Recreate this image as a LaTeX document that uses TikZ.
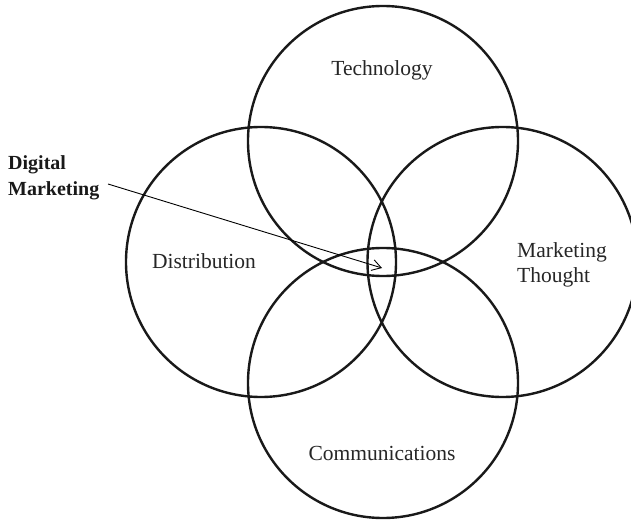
\documentclass[tikz,border=0pt]{standalone}
\usepackage{fontspec}
\setmainfont{Liberation Serif}
\usetikzlibrary{arrows.meta}
\begin{document}
\begin{tikzpicture}[x=1pt,y=-1pt,
  ring/.style={draw=black!90, line width=2.4pt, circle, minimum size=270pt, inner sep=0pt},
  lbl/.style={font=\fontsize{21.5}{25.5}\selectfont, text=black!85, inner sep=0pt},
  blbl/.style={font=\fontsize{20}{26}\selectfont\bfseries, text=black!90, inner sep=0pt, align=left},
  pointer/.style={line width=0.9pt, -{Straight Barb[length=9pt,width=11pt]}}]
\useasboundingbox (0,0) rectangle (631,521);
\node[ring] (tech) at (383,141) {};
\node[ring] (dist) at (261,262) {};
\node[ring] (mkt)  at (502.5,262) {};
\node[ring] (comm) at (383,383) {};
\node[lbl, anchor=base] (techl) at (382,76) {Technology};
\node[lbl, anchor=base] (distl) at (204,268) {Distribution};
\node[lbl, anchor=base] (comml) at (382,460) {Communications};
\node[lbl, align=left, anchor=north west] (mktl) at (517,242) {Marketing\\Thought};
\node[blbl, anchor=north west] (dm) at (8,155) {Digital\\Marketing};
\coordinate (dmtail) at (108,184);
\coordinate (dmtip) at (382,268);
\draw[pointer] (dmtail) -- (dmtip);
\end{tikzpicture}
\end{document}
